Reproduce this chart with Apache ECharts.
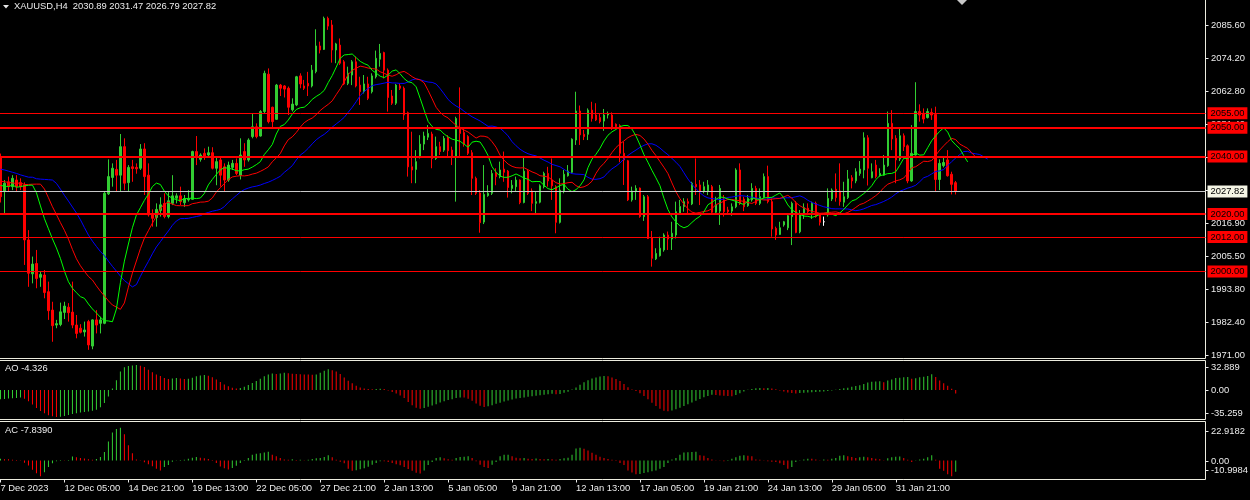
<!DOCTYPE html>
<html>
<head>
<meta charset="utf-8">
<title>XAUUSD H4</title>
<script src="https://cdn.jsdelivr.net/npm/echarts@6.0.0/dist/echarts.min.js"></script>
<style>
html,body{margin:0;padding:0;background:#000;overflow:hidden;}
#chart{width:1250px;height:500px;}
</style>
</head>
<body>
<div id="chart"></div>
<script>
// ---------------- DATA ----------------
const symbolName = 'XAUUSD,H4';
const timeLabels = ['7 Dec 2023','12 Dec 05:00','14 Dec 21:00','19 Dec 13:00','22 Dec 05:00','27 Dec 21:00',
  '2 Jan 13:00','5 Jan 05:00','9 Jan 21:00','12 Jan 13:00','17 Jan 05:00','19 Jan 21:00','24 Jan 13:00',
  '29 Jan 05:00','31 Jan 21:00'];

const opens = [
2040.0,2027.8,2031.2,2029.5,2031.8,2030.9,2030.0,2011.0,1999.2,2002.8,
1998.0,1998.8,1993.0,1986.6,1981.4,1981.6,1985.8,1987.6,1985.9,1981.4,
1980.3,1979.0,1982.6,1974.1,1983.2,1982.0,1982.0,2027.0,2032.7,2035.5,
2033.5,2043.4,2030.9,2036.4,2036.2,2035.9,2042.6,2033.5,2020.0,2018.8,
2021.2,2023.7,2019.1,2023.7,2025.5,2026.3,2023.9,2024.9,2025.1,2041.7,
2039.0,2041.1,2040.5,2041.3,2035.9,2038.8,2036.4,2031.8,2036.2,2037.6,
2033.5,2041.7,2038.8,2046.9,2050.3,2047.1,2055.6,2068.6,2057.1,2052.9,
2064.8,2064.5,2063.7,2056.2,2057.9,2068.0,2064.5,2065.4,2064.5,2069.5,
2078.4,2077.2,2088.0,2085.7,2077.0,2078.7,2072.9,2065.4,2068.3,2072.9,
2064.8,2062.5,2065.2,2062.5,2067.7,2073.8,2076.1,2070.0,2061.0,2058.5,
2064.5,2063.7,2055.2,2036.4,2035.5,2039.9,2044.3,2046.7,2047.8,2039.3,
2043.4,2042.2,2046.6,2042.2,2039.9,2050.1,2048.3,2046.9,2041.3,2032.4,
2027.3,2017.2,2026.4,2027.2,2034.5,2033.0,2035.6,2034.9,2028.9,2029.5,
2031.8,2024.0,2034.9,2028.0,2023.7,2024.1,2029.5,2034.1,2031.8,2029.5,
2017.1,2028.0,2033.3,2034.5,2045.7,2055.8,2047.7,2047.7,2056.1,2054.4,
2053.5,2052.3,2054.4,2054.4,2051.2,2050.7,2041.1,2038.5,2024.9,2027.8,
2029.0,2019.1,2026.0,2011.8,2004.4,2005.5,2007.5,2012.7,2011.3,2012.7,
2020.2,2022.6,2024.3,2023.5,2030.3,2030.1,2027.8,2027.8,2029.5,2020.6,
2021.0,2024.9,2021.4,2021.0,2022.5,2035.3,2025.2,2022.9,2024.9,2028.9,
2023.7,2025.7,2033.0,2024.3,2015.0,2012.9,2016.2,2015.2,2019.1,2023.7,
2013.8,2019.7,2022.0,2020.6,2023.7,2019.7,2017.3,2019.7,2025.2,2028.6,
2028.0,2024.1,2025.7,2032.6,2031.5,2034.1,2035.3,2046.5,2032.6,2037.0,
2033.3,2033.5,2036.8,2051.5,2046.3,2039.1,2047.2,2043.7,2031.5,2040.5,
2055.6,2055.0,2053.5,2055.3,2054.6,2032.0,2036.8,2038.8,2033.8,2030.89];

const highs = [
2041.0,2031.8,2033.0,2033.5,2033.5,2032.4,2031.0,2014.4,2005.2,2007.5,
1999.9,2000.5,1996.5,1989.5,1983.2,1989.2,1989.5,1989.0,1996.5,1984.9,
1981.7,1982.6,1983.2,1983.4,1986.6,1984.3,2027.7,2039.0,2037.6,2038.8,
2047.8,2046.3,2037.0,2038.8,2037.6,2044.3,2044.6,2037.6,2021.6,2023.7,
2025.8,2027.2,2027.8,2033.5,2027.2,2029.5,2026.6,2028.3,2042.0,2047.1,
2041.1,2042.8,2043.4,2043.2,2039.9,2039.6,2037.6,2038.2,2038.8,2039.3,
2046.3,2044.6,2046.3,2055.0,2051.5,2056.1,2069.8,2070.6,2057.3,2065.2,
2065.2,2064.8,2064.3,2060.2,2068.0,2068.9,2066.6,2069.4,2071.8,2084.2,
2079.9,2088.6,2088.6,2087.4,2079.5,2081.0,2073.5,2071.2,2073.5,2074.7,
2067.7,2068.3,2067.7,2068.9,2076.8,2079.1,2076.4,2070.6,2063.1,2065.2,
2065.4,2064.3,2055.6,2048.6,2042.2,2047.4,2048.6,2050.9,2048.6,2046.9,
2045.1,2047.1,2047.4,2043.4,2053.8,2064.0,2049.8,2047.4,2042.2,2033.0,
2028.3,2037.0,2030.0,2035.3,2035.9,2038.2,2041.7,2035.3,2031.8,2033.0,
2032.0,2039.9,2035.6,2028.9,2027.8,2030.3,2034.7,2036.4,2039.3,2030.0,
2032.4,2035.3,2037.0,2046.3,2062.5,2057.7,2049.2,2056.7,2059.0,2058.5,
2055.0,2056.5,2055.6,2055.3,2051.5,2051.2,2045.1,2038.8,2029.5,2030.0,
2029.2,2026.6,2026.6,2014.1,2008.1,2012.1,2013.3,2013.9,2017.3,2024.3,
2024.9,2025.5,2025.4,2031.2,2039.3,2031.8,2031.2,2031.8,2030.1,2026.0,
2030.1,2026.6,2022.5,2023.7,2035.9,2037.6,2026.0,2026.6,2030.7,2029.8,
2028.9,2034.1,2036.8,2025.4,2015.6,2017.3,2017.6,2020.2,2024.3,2024.5,
2021.4,2023.7,2023.7,2024.3,2024.3,2020.2,2019.1,2028.9,2028.9,2034.1,
2037.6,2031.2,2035.3,2033.5,2035.9,2038.4,2048.4,2047.4,2037.6,2038.8,
2035.9,2040.5,2055.6,2056.1,2047.4,2049.8,2048.0,2044.2,2050.9,2065.8,
2058.1,2056.7,2056.7,2056.7,2057.3,2039.0,2040.0,2042.2,2034.7,2031.47];

const lows = [
2024.0,2020.2,2028.0,2028.3,2027.8,2028.3,2002.3,1994.7,1995.9,1994.2,
1994.7,1990.7,1983.2,1975.6,1980.3,1981.0,1983.5,1982.6,1980.3,1976.8,
1978.5,1977.4,1972.8,1973.0,1978.5,1978.5,1981.7,2026.6,2029.5,2027.8,
2027.8,2028.3,2027.8,2031.2,2034.0,2035.3,2026.6,2019.1,2015.6,2015.6,
2019.1,2018.5,2018.5,2023.1,2023.7,2023.1,2022.5,2024.3,2024.9,2037.0,
2038.2,2038.8,2039.6,2035.5,2030.0,2029.5,2027.8,2031.2,2035.3,2033.5,
2032.0,2036.4,2038.2,2046.3,2046.3,2046.9,2055.0,2051.5,2049.8,2052.7,
2061.0,2060.5,2054.4,2055.6,2057.5,2063.7,2063.1,2061.0,2064.0,2068.9,
2075.8,2077.0,2084.0,2072.6,2072.4,2071.8,2064.8,2064.8,2064.8,2064.0,
2057.9,2061.9,2059.6,2061.9,2067.1,2071.2,2067.1,2055.6,2057.9,2057.9,
2063.1,2052.7,2033.0,2030.7,2030.7,2039.3,2042.2,2045.7,2035.9,2038.8,
2040.5,2041.6,2039.9,2037.0,2024.3,2039.9,2043.4,2040.5,2026.6,2026.6,
2013.5,2016.5,2026.0,2026.6,2030.0,2032.4,2031.2,2025.7,2027.2,2027.8,
2023.4,2023.7,2026.6,2021.0,2020.2,2023.7,2028.9,2029.5,2024.9,2013.3,
2016.7,2027.2,2033.0,2034.1,2044.0,2044.0,2045.7,2045.7,2052.1,2052.3,
2051.5,2048.9,2053.2,2049.2,2049.8,2038.0,2030.1,2024.5,2024.3,2024.9,
2018.7,2017.6,2011.3,2001.7,2004.0,2005.2,2006.9,2007.5,2007.5,2011.5,
2019.7,2020.8,2020.2,2023.1,2026.6,2023.1,2027.2,2026.6,2020.2,2020.2,
2016.2,2019.1,2019.7,2019.4,2022.0,2023.1,2021.0,2022.5,2024.3,2023.1,
2023.1,2025.4,2023.7,2012.1,2011.0,2012.7,2015.6,2014.4,2009.2,2013.3,
2013.3,2018.3,2020.2,2018.3,2018.7,2016.0,2015.9,2019.1,2024.5,2024.3,
2022.9,2022.5,2025.2,2028.9,2030.7,2033.3,2032.4,2029.9,2032.4,2032.4,
2033.0,2033.3,2036.4,2042.2,2030.7,2038.4,2041.9,2030.7,2031.2,2040.3,
2052.1,2051.5,2053.2,2052.7,2027.8,2028.3,2036.2,2033.0,2026.8,2026.79];

const closes = [
2026.0,2030.7,2029.5,2032.4,2029.5,2029.5,2011.0,1999.4,2002.6,1997.6,
1999.0,1992.7,1986.4,1981.2,1981.9,1986.0,1988.0,1985.7,1981.4,1978.5,
1978.9,1979.7,1974.5,1983.2,1981.4,1983.2,2027.2,2033.0,2035.9,2033.5,
2043.4,2030.7,2036.2,2035.8,2035.7,2042.6,2033.0,2019.7,2018.5,2021.6,
2023.2,2019.1,2024.6,2026.3,2026.3,2024.3,2025.4,2025.4,2041.7,2040.2,
2040.5,2039.9,2041.3,2035.9,2038.2,2033.5,2031.8,2037.0,2037.6,2034.1,
2040.5,2038.8,2045.7,2050.3,2046.9,2055.6,2068.9,2052.1,2052.1,2064.8,
2063.7,2063.4,2057.1,2058.2,2067.7,2065.2,2063.7,2064.5,2070.0,2078.4,
2077.0,2088.0,2085.3,2077.0,2079.1,2072.4,2065.2,2068.9,2072.9,2064.5,
2062.5,2065.2,2060.2,2068.0,2074.1,2075.8,2070.0,2060.5,2058.5,2064.8,
2063.7,2054.4,2036.4,2035.3,2038.2,2044.3,2047.1,2048.0,2039.3,2043.4,
2041.7,2046.3,2042.0,2039.9,2053.2,2048.0,2044.3,2041.1,2032.4,2027.2,
2017.0,2026.8,2027.2,2034.1,2033.0,2035.3,2034.5,2029.2,2030.0,2031.8,
2024.0,2034.9,2027.2,2023.7,2024.3,2029.8,2034.1,2031.5,2029.8,2017.1,
2028.3,2033.8,2034.9,2046.0,2055.8,2047.5,2046.9,2056.1,2053.2,2052.7,
2052.1,2054.4,2054.8,2050.0,2050.4,2041.1,2038.8,2024.9,2028.0,2028.9,
2019.1,2026.0,2011.5,2004.6,2006.3,2008.1,2012.7,2011.3,2013.3,2020.8,
2022.6,2024.3,2023.7,2030.7,2029.5,2027.8,2029.5,2030.1,2020.6,2023.1,
2028.9,2020.8,2020.8,2022.5,2035.3,2023.7,2022.5,2025.4,2028.9,2023.7,
2026.0,2033.0,2024.3,2014.8,2012.7,2015.2,2017.3,2019.4,2023.7,2013.6,
2020.2,2022.2,2020.8,2023.7,2019.1,2017.1,2017.3,2025.4,2028.3,2025.7,
2024.3,2026.0,2032.2,2031.5,2034.7,2035.6,2046.5,2035.9,2034.7,2033.0,
2034.1,2037.0,2051.5,2046.1,2038.8,2047.2,2043.4,2031.5,2041.1,2055.6,
2054.4,2053.0,2055.6,2054.4,2032.0,2037.6,2037.9,2033.3,2030.3,2027.82];

// Awesome Oscillator values
const aoValues = [
-12.0,-11.6,-11.1,-10.7,-10.2,-9.8,-11.2,-14.5,-19.0,-23.5,
-27.5,-30.5,-32.8,-34.4,-35.259,-34.9,-33.8,-32.6,-31.2,-30.3,
-29.4,-28.6,-27.9,-27.0,-25.6,-22.4,-17.0,-8.5,2.0,13.0,
24.5,30.0,31.6,32.4,32.889,32.0,30.3,26.8,23.5,20.6,
18.4,16.0,14.6,15.2,15.8,15.1,14.6,15.0,16.3,18.0,
19.2,19.8,18.9,16.8,13.9,10.5,7.4,4.9,3.1,2.2,
2.8,4.3,6.6,9.4,12.0,14.8,18.1,20.6,21.8,21.2,
21.9,22.6,22.0,21.4,21.0,20.9,20.5,20.3,20.0,20.4,
22.6,25.5,27.4,26.0,24.5,21.0,16.6,12.4,9.0,5.8,
3.5,2.2,1.6,1.2,1.5,1.9,1.4,-0.6,-2.4,-4.5,
-7.0,-10.2,-15.5,-20.0,-23.0,-24.5,-23.6,-21.8,-20.3,-18.5,
-16.4,-14.6,-13.0,-11.9,-10.5,-9.6,-9.8,-11.4,-14.0,-17.5,
-20.4,-22.0,-21.2,-19.8,-18.0,-16.5,-14.8,-13.5,-12.3,-11.0,
-10.2,-9.6,-8.8,-8.1,-7.5,-6.8,-6.0,-5.3,-4.9,-5.4,
-5.0,-3.6,-2.0,0.8,3.5,7.0,10.2,13.0,15.2,16.6,
17.8,18.6,18.0,16.6,14.6,11.8,8.0,3.8,0.9,-1.2,
-4.0,-7.8,-12.0,-16.5,-20.8,-24.6,-27.0,-27.8,-26.8,-25.0,
-23.0,-20.8,-18.5,-16.2,-13.9,-11.6,-9.5,-7.6,-6.2,-6.5,
-7.0,-7.4,-7.7,-7.9,-6.4,-4.0,-1.8,0.4,1.6,2.4,
2.9,2.5,2.8,2.2,1.0,-0.4,-1.8,-3.0,-3.8,-4.3,
-3.9,-3.5,-3.1,-2.7,-2.4,-2.1,-1.8,-1.3,-0.6,0.6,
1.4,2.3,3.2,4.5,5.4,6.3,8.0,9.9,10.8,11.3,
11.5,10.4,12.6,14.0,15.7,16.2,17.0,17.3,14.8,15.6,
16.8,17.6,18.4,20.7,17.3,12.6,9.0,5.6,1.8,-4.326];

// Accelerator Oscillator values
const acValues = [
1.2,0.9,0.8,0.5,0.3,0.2,-1.5,-3.5,-6.5,-9.0,
-10.9984,-8.2,-4.5,-2.0,-0.5,0.3,0.1,0.4,2.8,2.2,
1.8,1.4,0.9,0.6,1.0,2.5,6.0,13.3,19.6,22.2,
22.9182,18.5,10.7,5.1,0.7,0.1,-1.2,-2.6,-4.0,-5.8,
-7.0,-4.6,-3.2,-0.8,0.2,0.4,0.6,1.2,2.0,2.4,
2.0,1.6,1.0,-0.4,-1.8,-4.2,-5.5,-6.3,-5.2,-3.6,
-1.8,0.3,1.8,4.0,4.7,5.1,5.6,6.2,4.0,2.9,
1.8,0.7,0.5,0.8,0.3,0.5,0.2,0.6,1.0,1.5,
1.8,2.5,3.6,2.2,0.6,-0.8,-2.0,-5.8,-7.2,-6.9,
-6.1,-5.5,-4.4,-3.0,-1.8,-0.5,-0.6,-1.0,-1.8,-2.6,
-3.4,-4.6,-5.9,-7.2,-8.6,-9.2,-7.0,-3.1,-1.0,1.8,
2.2,1.5,0.8,0.5,1.8,2.5,2.7,2.9,1.7,-0.5,
-3.0,-4.6,-5.2,-3.0,-1.0,3.0,4.0,4.1,3.0,2.0,
1.5,1.8,1.2,1.0,1.4,1.0,0.9,1.1,0.8,0.6,
1.0,1.5,2.0,4.0,8.5,9.0,8.2,7.0,5.5,4.0,
2.7,1.8,1.0,0.5,-0.4,-1.8,-3.2,-7.0,-8.5,-9.6,
-9.4,-8.8,-8.2,-7.6,-7.0,-5.8,-4.5,-1.8,0.7,1.8,
4.0,5.6,5.8,5.9,6.2,3.6,3.3,1.8,0.7,0.2,
0.1,-0.5,0.3,1.2,2.2,3.3,3.6,3.3,2.9,0.7,
0.5,0.2,-0.5,-0.8,-1.0,-2.0,-3.1,-5.8,-4.5,-1.0,
0.1,0.7,1.3,1.2,0.7,0.2,0.7,0.6,1.3,1.8,
3.3,3.6,2.9,2.4,1.8,2.2,2.7,2.2,1.8,1.3,
0.8,0.2,1.5,2.2,2.7,2.8,1.8,0.5,-1.0,-0.1,
0.7,1.3,2.2,3.6,0.5,-5.8,-7.2,-9.6,-10.9984,-7.839];

// Alligator lines before the first visible bar's own values
const jawLead = [2035.6,2035.3,2034.9,2034.5,2034.1,2033.6,2033.2,2032.8];
const teethLead = [2031.4,2031.2,2031.0,2030.8,2030.6];
const lipsLead = [2029.9,2029.7,2029.5];

const levelValues = [2055, 2050, 2040, 2020, 2012, 2000];
const priceTickLabels = ['1971.00','1982.40','1993.80','2005.50','2016.90','2028.40','2039.80','2051.40','2062.80','2074.20','2085.60'];
const aoTickLabels = ['-35.259','0.00','32.889'];
const acTickLabels = ['-10.9984','0.00','22.9182'];

// ---------------- LAYOUT / STYLE ----------------
const SLOTS = 302;          // bar slots across the chart (includes right shift area)
const LABEL_STEP = 16;      // bars between time labels
const levelWidths = [1, 2, 2, 2, 1, 1];
const acTickSlots = [0, 3, 13];
const FONT = 'Liberation Sans';
const FS = 9.4;
const TXT = '#ECECEC';
const FRAME = '#ECECDF';
const BULL = '#32CD32', BEAR = '#FF0000';

const n = closes.length;
const categories = Array.from({length: SLOTS}, (_, i) =>
  (i % LABEL_STEP === 0 && i / LABEL_STEP < timeLabels.length) ? timeLabels[i / LABEL_STEP] : '');

// Bill Williams Alligator: SMMA of median price, shifted forward
const median = highs.map((h, i) => (h + lows[i]) / 2);
function smma(src, period, seed) {
  let p = seed;
  return src.map(v => (p = (p * (period - 1) + v) / period));
}
const jaw = jawLead.concat(smma(median, 13, jawLead[jawLead.length - 1]));
const teeth = teethLead.concat(smma(median, 8, teethLead[teethLead.length - 1]));
const lips = lipsLead.concat(smma(median, 5, lipsLead[lipsLead.length - 1]));

const candleData = opens.map((o, i) => [o, closes[i], lows[i], highs[i]]);

const acSlots = Array.from({length: 14}, () => '');
acTickSlots.forEach((s, k) => { acSlots[s] = acTickLabels[k]; });

const lastClose = closes[n - 1];
const fmt2 = v => v.toFixed(2);

const markLineData = levelValues.map((v, k) => ({
  yAxis: v,
  lineStyle: {color: '#FF0000', width: levelWidths[k], type: 'solid'},
  label: {backgroundColor: '#FF0000', color: '#000'}
})).concat([{
  yAxis: lastClose,
  lineStyle: {color: '#C8C8C8', width: 1, type: 'solid'},
  label: {backgroundColor: '#F4F4E4', color: '#000'}
}]);

const gridBase = {left: -1.5, width: 1207, show: true, borderColor: FRAME, borderWidth: 1,
  backgroundColor: 'transparent', containLabel: false, outerBoundsMode: 'none'};
const labelGrid = {left: -1.5, width: 1207, show: false, containLabel: false, outerBoundsMode: 'none'};

const textStyle = {color: TXT, fontSize: FS, fontFamily: FONT, fontWeight: 'normal'};

function labelAxis(gridIndex, data) {
  return {
    type: 'category', gridIndex, data, position: 'right', boundaryGap: false,
    axisLine: {show: false, onZero: false},
    axisTick: {show: true, length: 3, lineStyle: {color: TXT}, interval: (i, v) => v !== ''},
    axisLabel: {show: true, interval: 0, margin: 5.5, color: TXT, fontSize: FS, fontFamily: FONT},
    splitLine: {show: false}
  };
}

const option = {
  backgroundColor: '#000',
  animation: false,
  title: [
    {text: symbolName + '  ' + [opens[n-1], highs[n-1], lows[n-1], closes[n-1]].map(fmt2).join(' '),
     left: 14, top: 2, padding: 0, textStyle},
    {text: 'AO ' + aoValues[n - 1].toFixed(3), left: 5, top: 364, padding: 0, textStyle},
    {text: 'AC ' + acValues[n - 1].toFixed(4), left: 5, top: 426, padding: 0, textStyle}
  ],
  graphic: [
    {type: 'polygon', shape: {points: [[3, 5], [9, 5], [6, 8.5]]}, style: {fill: '#E6E6E6'}, silent: true},
    {type: 'polygon', shape: {points: [[957, 0], [967, 0], [962, 5]]}, style: {fill: '#C8C8C8'}, silent: true}
  ],
  grid: [
    Object.assign({}, gridBase, {top: -2, height: 360.5}),
    Object.assign({}, gridBase, {top: 360.5, height: 59}),
    Object.assign({}, gridBase, {top: 421.5, height: 58}),
    Object.assign({}, labelGrid, {top: 25, height: 330}),
    Object.assign({}, labelGrid, {top: 367, height: 46}),
    Object.assign({}, labelGrid, {top: 431, height: 39})
  ],
  xAxis: [
    {type: 'category', gridIndex: 0, data: categories, boundaryGap: true, show: false},
    {type: 'category', gridIndex: 1, data: categories, boundaryGap: true, show: false},
    {type: 'category', gridIndex: 2, data: categories, boundaryGap: true,
     axisLine: {show: false, onZero: false},
     axisTick: {show: true, alignWithLabel: true, length: 3, lineStyle: {color: TXT},
                interval: (i) => i % LABEL_STEP === 0 && i / LABEL_STEP < timeLabels.length},
     axisLabel: {show: true, interval: (i) => i % LABEL_STEP === 0 && i / LABEL_STEP < timeLabels.length,
                 align: 'left', margin: 4, color: TXT, fontSize: FS, fontFamily: FONT},
     splitLine: {show: false}},
    {type: 'value', gridIndex: 3, show: false, min: 0, max: 1},
    {type: 'value', gridIndex: 4, show: false, min: 0, max: 1},
    {type: 'value', gridIndex: 5, show: false, min: 0, max: 1}
  ],
  yAxis: [
    {type: 'value', gridIndex: 0, min: 1969.78, max: 2095.07, show: false},
    {type: 'value', gridIndex: 1, min: -38.53, max: 38.79, show: false},
    {type: 'value', gridIndex: 2, min: -13.34, max: 27.38, show: false},
    labelAxis(3, priceTickLabels),
    labelAxis(4, aoTickLabels),
    labelAxis(5, acSlots)
  ],
  series: [
    {
      type: 'candlestick', name: 'XAUUSD', xAxisIndex: 0, yAxisIndex: 0,
      data: candleData, barWidth: 2, silent: true, z: 2,
      itemStyle: {color: BULL, color0: BEAR, borderColor: BULL, borderColor0: BEAR,
                  borderColorDoji: '#FFFFFF', borderWidth: 1},
      markLine: {
        silent: true, symbol: ['none', 'none'], animation: false,
        label: {show: true, position: 'end', distance: 2, formatter: p => fmt2(p.value),
                padding: [2, 3, 1, 3], fontSize: FS, fontFamily: FONT},
        data: markLineData
      }
    },
    {type: 'line', name: 'Jaw', xAxisIndex: 0, yAxisIndex: 0, data: jaw, showSymbol: false, symbol: 'none',
     lineStyle: {color: '#0000FF', width: 1}, silent: true, z: 3},
    {type: 'line', name: 'Teeth', xAxisIndex: 0, yAxisIndex: 0, data: teeth, showSymbol: false, symbol: 'none',
     lineStyle: {color: '#FF0000', width: 1}, silent: true, z: 3},
    {type: 'line', name: 'Lips', xAxisIndex: 0, yAxisIndex: 0, data: lips, showSymbol: false, symbol: 'none',
     lineStyle: {color: '#00FF00', width: 1}, silent: true, z: 3},
    {type: 'bar', name: 'AO', xAxisIndex: 1, yAxisIndex: 1, data: aoValues, barWidth: 1, silent: true,
     itemStyle: {color: p => (p.dataIndex === 0 || aoValues[p.dataIndex] > aoValues[p.dataIndex - 1]) ? BULL : BEAR}},
    {type: 'bar', name: 'AC', xAxisIndex: 2, yAxisIndex: 2, data: acValues, barWidth: 1, silent: true,
     itemStyle: {color: p => (p.dataIndex === 0 || acValues[p.dataIndex] > acValues[p.dataIndex - 1]) ? BULL : BEAR}}
  ]
};

const chart = echarts.init(document.getElementById('chart'), null, {renderer: 'canvas'});
chart.setOption(option);
</script>
</body>
</html>
